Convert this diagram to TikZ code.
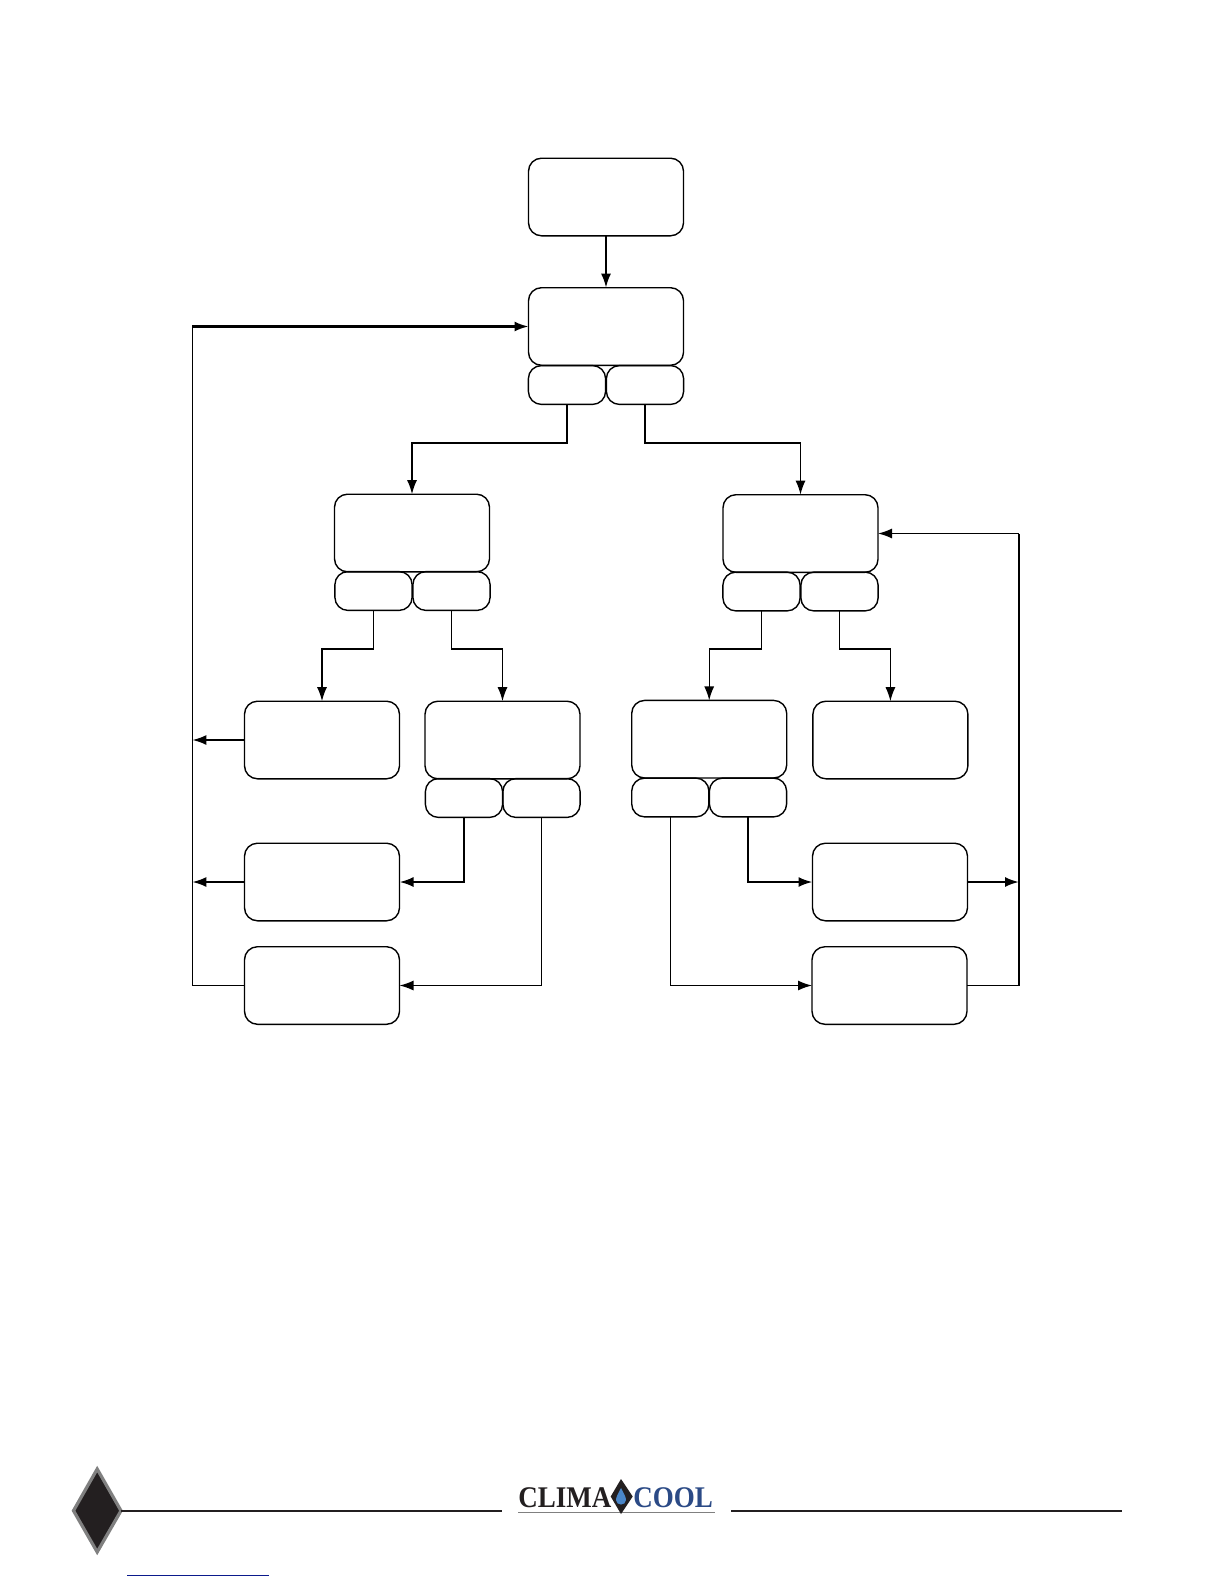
\documentclass[tikz,border=0pt]{standalone}
\usepackage{xcolor}
\usepackage{fontspec}
\setmainfont{Liberation Serif}
\usetikzlibrary{arrows.meta}
\definecolor{cInk}{HTML}{231F20}
\definecolor{cEdge}{HTML}{808080}
\definecolor{cCool}{HTML}{2B4A86}
\definecolor{cDrop}{HTML}{4A86C8}
\definecolor{cLink}{HTML}{0B1A8C}
\tikzset{
  stepbox/.style={draw=black, rectangle, rounded corners=6.5pt, line width=0.7pt, outer sep=0pt, minimum width=77.5pt, minimum height=38.8pt, inner sep=0pt},
  tabbox/.style={draw=black, rectangle, rounded corners=6.5pt, line width=0.7pt, outer sep=0pt, minimum width=38.6pt, minimum height=19.4pt, inner sep=0pt},
  link/.style={line width=0.65pt, -{Latex[length=7pt,width=5pt]}},
  linkm/.style={line width=0.8pt, -{Latex[length=7pt,width=5pt]}},
  linkb/.style={line width=1.05pt, -{Latex[length=7pt,width=5pt]}},
  wire/.style={line width=0.65pt},
  wireb/.style={line width=1.05pt},
  rule/.style={line width=1pt, cInk},
  brand/.style={font=\fontsize{15}{16}\selectfont\bfseries, inner sep=0pt, anchor=base west},
}
\begin{document}
\begin{tikzpicture}[x=0.5pt,y=-0.5pt]
\useasboundingbox (0,0) rectangle (1224,1584);
\fill[white] (0,0) rectangle (1224,1584);
% top of the tree
\node[stepbox] (start) at (606,197) {};
\node[stepbox] (main) at (606,326.5) {};
\node[tabbox] (mainL) at (567,385) {};
\node[tabbox] (mainR) at (645,385) {};
% second level
\node[stepbox] (left) at (412,533) {};
\node[tabbox] (leftL) at (373.5,591) {};
\node[tabbox] (leftR) at (451.5,591) {};
\node[stepbox] (right) at (800.5,533.5) {};
\node[tabbox] (rightL) at (761.5,591.5) {};
\node[tabbox] (rightR) at (839.5,591.5) {};
% third level
\node[stepbox] (la) at (322,740) {};
\node[stepbox] (lb) at (502.5,740) {};
\node[tabbox] (lbL) at (464,798) {};
\node[tabbox] (lbR) at (541.5,798) {};
\node[stepbox] (ra) at (709.2,739.2) {};
\node[tabbox] (raL) at (670.3,797.5) {};
\node[tabbox] (raR) at (748,797.5) {};
\node[stepbox] (rb) at (890.4,740) {};
% bottom rows
\node[stepbox] (lc) at (322,882) {};
\node[stepbox] (ld) at (322,985.5) {};
\node[stepbox] (rc) at (890,882) {};
\node[stepbox] (rd) at (889.5,985.5) {};
% return lines
\coordinate (busL) at (192.3,326.5);
\coordinate (busR) at (1019,533.5);
\coordinate (trunkA) at (0,443);
\coordinate (trunkB) at (0,649);
\draw[linkb] (start) -- (main);
\draw[linkm] (mainL.south) -- (mainL.south |- trunkA) -| (left.north);
\draw[linkm] (mainR.south) -- (mainR.south |- trunkA) -| (right.north);
\draw[linkm] (leftL.south) -- (leftL.south |- trunkB) -| (la.north);
\draw[linkm] (leftR.south) -- (leftR.south |- trunkB) -| (lb.north);
\draw[link] (rightL.south) -- (rightL.south |- trunkB) -| (ra.north);
\draw[link] (rightR.south) -- (rightR.south |- trunkB) -| (rb.north);
\draw[linkb] (lbL.south) |- (lc.east);
\draw[link] (lbR.south) |- (ld.east);
\draw[link] (raL.south) |- (rd.west);
\draw[linkb] (raR.south) |- (rc.west);
\draw[wire] (ld.west) -| (busL);
\draw[linkb] (busL) -- (main.west);
\draw[linkb] (la.west) -- (la.west -| busL);
\draw[linkb] (lc.west) -- (lc.west -| busL);
\draw[wire] (rd.east) -- (rd.east -| busR);
\draw[wireb] (rd.east -| busR) -- (busR);
\draw[link] (busR) -- (right.east);
\draw[linkb] (rc.east) -- (rc.east -| busR);
% footer
\coordinate (markN) at (97.2,1469);
\coordinate (markE) at (121,1510.7);
\coordinate (markS) at (97.2,1552);
\coordinate (markW) at (73.5,1510.7);
\draw[draw=cEdge, fill=cInk, line width=1.6pt, line join=miter] (markN) -- (markE) -- (markS) -- (markW) -- cycle;
\draw[rule] (markE) -- (502,1510.7);
\coordinate (ruleR) at (731,1510.7);
\draw[rule] (ruleR) -- (1122,1510.7);
\draw[line width=0.5pt, cLink] (127,1575) -- (269,1575);
% logo
\draw[line width=0.5pt, cEdge] (518,1512.3) -- (715,1512.3);
\node[brand, text=cInk] (clima) at (518,1507) {\scalebox{0.9}[1]{CLIMA}};
\node[brand, text=cCool] (cool) at (633,1507) {\scalebox{0.9}[1]{COOL}};
\fill[cInk] (621,1479) -- (632.7,1496.5) -- (621,1514) -- (610.7,1496.5) -- cycle;
\fill[cDrop] (621,1488) .. controls (618,1494) and (616,1497) .. (616,1500) .. controls (616,1506) and (626,1506) .. (626,1500) .. controls (626,1497) and (624,1494) .. (621,1488) -- cycle;
\end{tikzpicture}
\end{document}
